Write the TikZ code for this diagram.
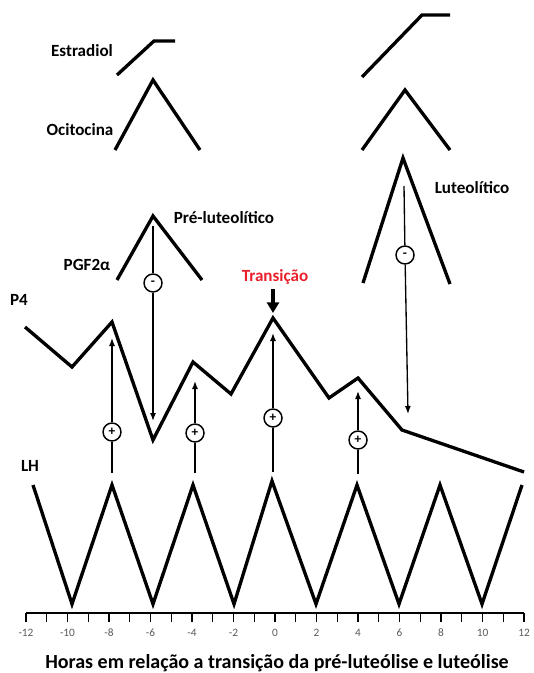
\documentclass[tikz,border=0pt]{standalone}
\usepackage{fontspec}
\setmainfont{Carlito}
\usetikzlibrary{arrows.meta}
\definecolor{transred}{RGB}{232,32,44}
\definecolor{ticktext}{RGB}{90,90,90}
\begin{document}
\begin{tikzpicture}[x=0.75pt,y=-0.75pt,
  curve/.style={line width=2.5pt,line join=miter},
  thin/.style={line width=1pt},
  arr/.style={thin,-{Latex[length=6pt,width=4.5pt]}},
  sign/.style={circle,draw,line width=1.1pt,minimum size=13.5pt,inner sep=0pt,font=\fontsize{10}{10}\selectfont\bfseries},
  lbl/.style={font=\fontsize{12.8}{14}\selectfont\bfseries,inner sep=0pt},
  tlbl/.style={font=\fontsize{8.5}{9}\selectfont,text=ticktext,inner sep=0pt}]
\useasboundingbox (0,0) rectangle (534,673);

% hormone curves
\draw[curve] (117,75) -- (154,41) -- (175,41);
\draw[curve] (115,150) -- (153,80) -- (200,150);
\draw[curve] (362,77) -- (422,15) -- (450,15);
\draw[curve] (362,150) -- (405,90) -- (450,150);
\draw[curve] (117,280) -- (153,216) -- (202,280);
\draw[curve] (363,283) -- (403,158) -- (450,284);
% P4
\draw[curve] (25,327) -- (72,367) -- (112,322) -- (153,440) -- (193,362) -- (231,394)
  -- (273,318) -- (329,398) -- (358,378) -- (402,430) -- (524,472);
% LH
\draw[curve] (33,485) -- (72,604) -- (112,485) -- (153,604) -- (193,485) -- (234,604)
  -- (272,481) -- (316,604) -- (357,485) -- (399,604) -- (440,485) -- (482,604) -- (522,485);

% labels
\node[lbl] (estr) at (82,51) {Estradiol};
\node[lbl] (ocit) at (80,130) {Ocitocina};
\node[lbl] (pgf) at (87,265) {PGF2α};
\node[lbl] (prelut) at (224,218) {Pré-luteolítico};
\node[lbl,text=transred] (trans) at (275,277) {Transição};
\node[lbl] (lut) at (472,188) {Luteolítico};
\node[lbl] (p4) at (19,300) {P4};
\node[lbl] (lh) at (30,466) {LH};

% sign circles
\node[sign] (m1) at (153,283) {-};
\node[sign] (m2) at (405,255) {-};
\node[sign] (p1) at (112,432) {+};
\node[sign] (p2) at (195,433) {+};
\node[sign] (p3) at (273,418) {+};
\node[sign] (p4c) at (358,440) {+};

% end points
\coordinate (m1top) at (153,226);
\coordinate (m1end) at (153,421);
\coordinate (m2top) at (404,186);
\coordinate (m2end) at (408,414);
\coordinate (p1end) at (112,338);
\coordinate (p1bot) at (112,473);
\coordinate (p2end) at (195,381);
\coordinate (p2bot) at (195,473);
\coordinate (p3end) at (273,333);
\coordinate (p3bot) at (273,472);
\coordinate (p4end) at (358,391);
\coordinate (p4bot) at (358,474);
\coordinate (transtail) at (273,289);
\coordinate (transtip) at (273,313);

\draw[thin] (m1top) -- (m1);
\draw[arr] (m1) -- (m1end);
\draw[thin] (m2top) -- (m2);
\draw[arr] (m2) -- (m2end);
\draw[arr] (p1) -- (p1end);
\draw[thin] (p1) -- (p1bot);
\draw[arr] (p2) -- (p2end);
\draw[thin] (p2) -- (p2bot);
\draw[arr] (p3) -- (p3end);
\draw[thin] (p3) -- (p3bot);
\draw[arr] (p4c) -- (p4end);
\draw[thin] (p4c) -- (p4bot);
\draw[line width=2.4pt,-{Triangle[length=8pt,width=9pt]}] (transtail) -- (transtip);

% axis
\draw[line width=1pt] (26,613) coordinate (axL) -- (524,613) coordinate (axR);
\foreach \h in {-12,...,12} {
  \draw[line width=0.9pt] ({275+20.75*\h},613) -- ({275+20.75*\h},622);
}
\foreach \h in {-12,-10,...,12} {
  \node[tlbl] at ({275+20.75*\h},633) {\h};
}
\node[font=\fontsize{15}{17}\selectfont\bfseries,inner sep=0pt] (title) at (277,663) {Horas em relação a transição da pré-luteólise e luteólise};
\end{tikzpicture}
\end{document}
